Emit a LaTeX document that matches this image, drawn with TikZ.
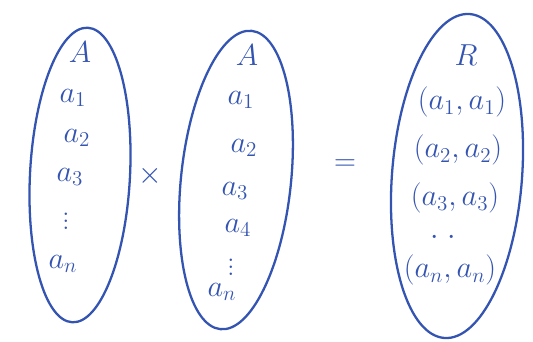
\documentclass[tikz,border=0pt]{standalone}
\usepackage{amsmath,amssymb}
\usetikzlibrary{shapes.geometric}
\definecolor{inkblue}{RGB}{52,84,178}
\tikzset{
  setline/.style={draw=inkblue, line width=1.3pt, ellipse, inner sep=0pt},
  elem/.style={text=inkblue, font=\LARGE, inner sep=0pt}
}
\begin{document}
\begin{tikzpicture}[x=0.02cm, y=-0.02cm]
    \useasboundingbox (0,0) rectangle (533,341);
    % Sets drawn as tilted ovals
    \node[setline, minimum width=2.0cm, minimum height=5.9cm, rotate=-3] (setA) at (80,175) {};
    \node[setline, minimum width=2.2cm, minimum height=6.0cm, rotate=-6] (setB) at (236,180) {};
    \node[setline, minimum width=2.6cm, minimum height=6.5cm, rotate=-4.5] (setR) at (457,176) {};
    % First set A
    \node[elem] (nameA) at (80,52) {$A$};
    \foreach \lbl/\px/\py [count=\i] in {a_1/73/98, a_2/77/138, a_3/70/177, \vdots/66/216, a_n/63/264}
        \node[elem] (a\i) at (\px,\py) {$\lbl$};
    % Second set A
    \node[elem] (nameB) at (247,55) {$A$};
    \foreach \lbl/\px/\py [count=\i] in {a_1/241/100, a_2/244/148, a_3/235/191, a_4/238/228, \vdots/231/262, a_n/222/292}
        \node[elem] (b\i) at (\px,\py) {$\lbl$};
    % Result R
    \node[elem] (nameR) at (466,55) {$R$};
    \foreach \lbl/\px/\py [count=\i] in {(a_1,a_1)/462/102, (a_2,a_2)/458/150, (a_3,a_3)/455/198, \cdot\;\cdot/443/238, (a_n,a_n)/450/270}
        \node[elem] (r\i) at (\px,\py) {$\lbl$};
    % Operators
    \node[elem] (times) at (150,176) {$\times$};
    \node[elem] (equals) at (345,165) {$=$};
\end{tikzpicture}
\end{document}
